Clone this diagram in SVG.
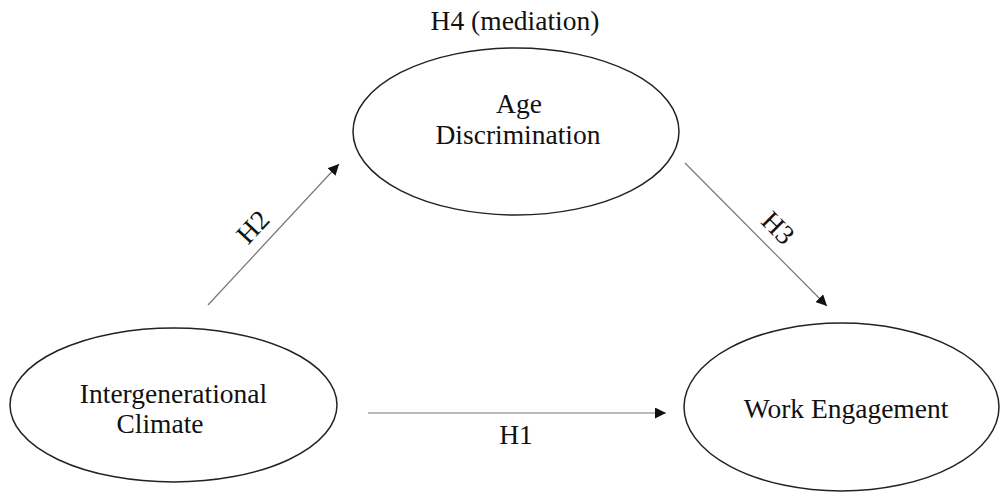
<svg xmlns="http://www.w3.org/2000/svg" width="1000" height="492" viewBox="0 0 1000 492">
<style>
.node{fill:#fff;stroke:#222;stroke-width:1.5}
.t{font-family:"Liberation Serif","Times New Roman",serif;font-size:27.5px;fill:#111;text-anchor:middle}
.c{stroke:#777;stroke-width:1.2;fill:none;marker-end:url(#ah)}
</style>
<defs>
<marker id="ah" viewBox="0 0 10 10" refX="10" refY="5" markerWidth="11" markerHeight="11" markerUnits="userSpaceOnUse" orient="auto">
<path d="M0,0 L10,5 L0,10 z" fill="#111"/>
</marker>
</defs>
<rect width="1000" height="492" fill="#fff"/>
<g id="connectors">
<line class="c" x1="368" y1="413" x2="666" y2="413"/>
<line class="c" x1="208" y1="305" x2="339" y2="164"/>
<line class="c" x1="685" y1="163" x2="827" y2="306"/>
<text class="t" x="516" y="444">H1</text>
<text class="t" transform="translate(253,227) rotate(-47)" y="9">H2</text>
<text class="t" transform="translate(778,228) rotate(45)" y="9">H3</text>
<text class="t" x="515" y="30">H4 (mediation)</text>
</g>
<g id="age-discrimination">
<ellipse class="node" cx="516" cy="131.5" rx="163" ry="83.5"/>
<text class="t" x="519" y="113">Age</text>
<text class="t" x="518" y="144">Discrimination</text>
</g>
<g id="intergenerational-climate">
<ellipse class="node" cx="173.5" cy="405" rx="163.5" ry="77"/>
<text class="t" x="173.5" y="403">Intergenerational</text>
<text class="t" x="160" y="433">Climate</text>
</g>
<g id="work-engagement">
<ellipse class="node" cx="841.5" cy="407" rx="157.5" ry="84"/>
<text class="t" x="846" y="418">Work Engagement</text>
</g>
</svg>
